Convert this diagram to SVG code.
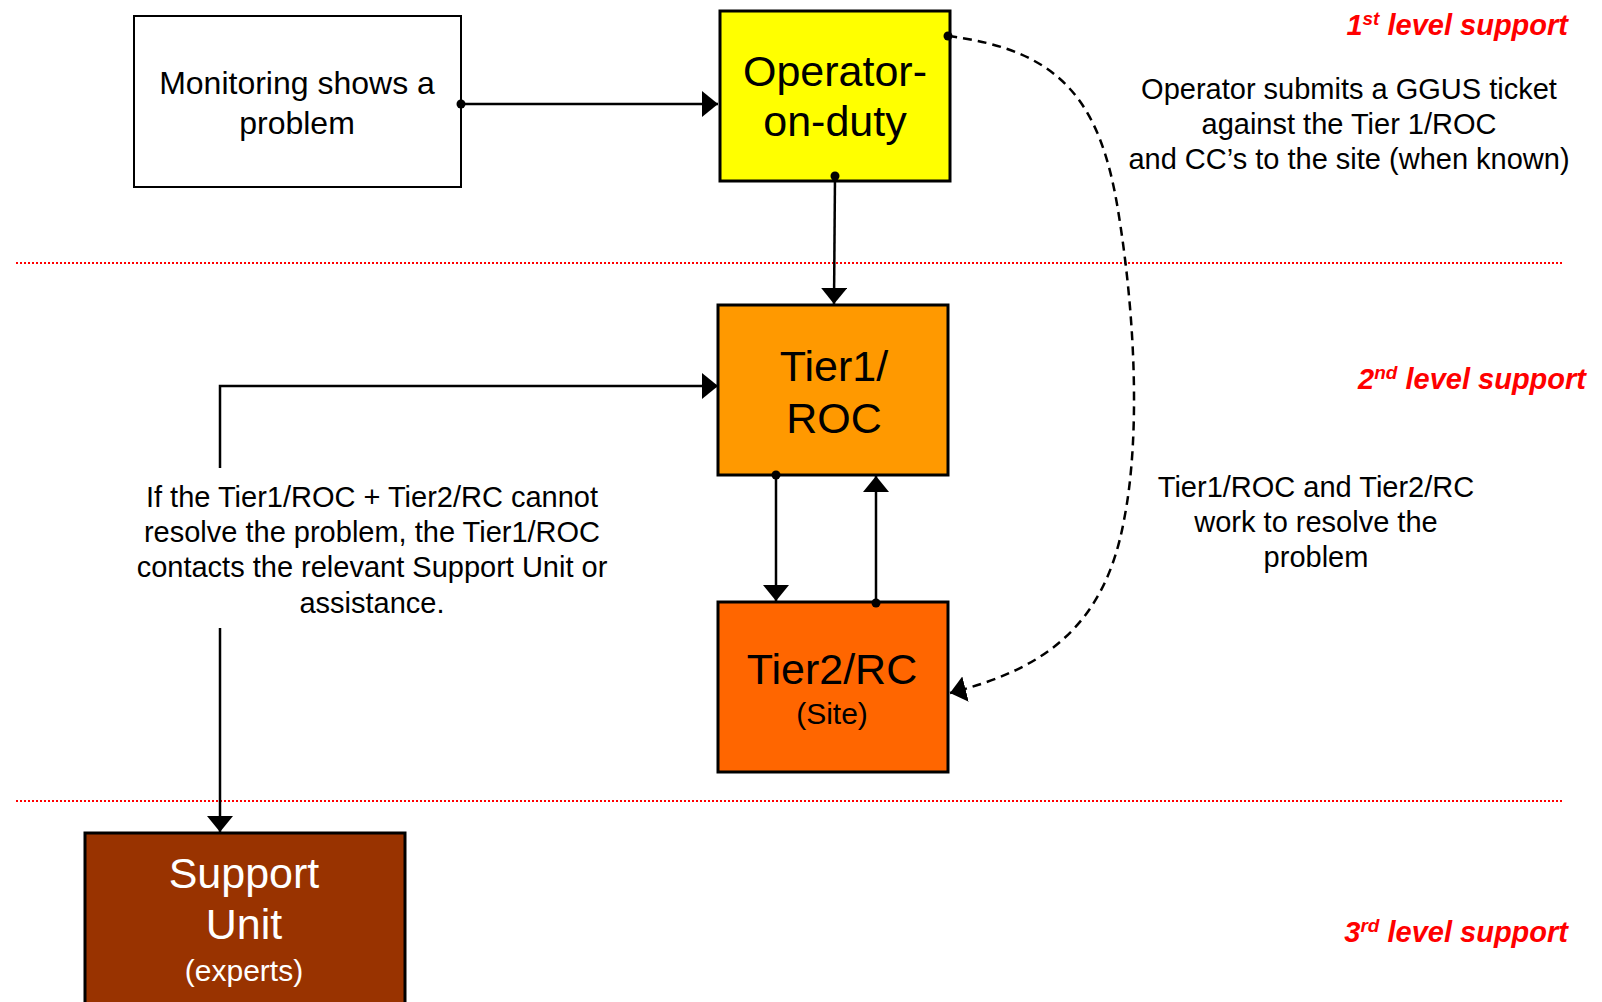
<svg xmlns="http://www.w3.org/2000/svg" width="1602" height="1002" viewBox="0 0 1602 1002">
<style>
text{font-family:"Liberation Sans",Arial,sans-serif;fill:#000}
.c{text-anchor:middle}
.body{font-size:29px}
.big{font-size:43px}
.mid{font-size:30px}
.lvl{font-size:29px;font-weight:bold;font-style:italic;fill:#ff0000;text-anchor:end}
.sup{font-size:19px}
.box{stroke:#000;stroke-width:3}
.wire{fill:none;stroke:#000;stroke-width:2.5}
.dash{fill:none;stroke:#000;stroke-width:2.5;stroke-dasharray:9 6}
.sep{stroke:#ff0000;stroke-width:2;stroke-dasharray:2 2}
.w{fill:#fff}
</style>
<defs>
<marker id="ah" viewBox="0 0 16 26" refX="16" refY="13" markerWidth="16" markerHeight="26" markerUnits="userSpaceOnUse" orient="auto">
<path d="M0,0 L16,13 L0,26 Z" fill="#000"/>
</marker>
<marker id="dot" viewBox="0 0 10 10" refX="5" refY="5" markerWidth="10" markerHeight="10" markerUnits="userSpaceOnUse">
<circle cx="5" cy="5" r="4.5" fill="#000"/>
</marker>
</defs>
<rect width="1602" height="1002" fill="#fff"/>
<g id="separators">
<line class="sep" x1="16" y1="263" x2="1563" y2="263"/>
<line class="sep" x1="16" y1="801" x2="1563" y2="801"/>
</g>
<g id="levels">
<text class="lvl" x="1568" y="35">1<tspan class="sup" dy="-10">st</tspan><tspan dy="10"> level support</tspan></text>
<text class="lvl" x="1586" y="389">2<tspan class="sup" dy="-10">nd</tspan><tspan dy="10"> level support</tspan></text>
<text class="lvl" x="1568" y="942">3<tspan class="sup" dy="-10">rd</tspan><tspan dy="10"> level support</tspan></text>
</g>
<g id="monitoring">
<rect x="134" y="16" width="327" height="171" fill="#fff" stroke="#000" stroke-width="2"/>
<text class="c" x="297" y="94" style="font-size:32px">Monitoring shows a</text>
<text class="c" x="297" y="134" style="font-size:32px">problem</text>
</g>
<g id="operator">
<rect class="box" x="720" y="11" width="230" height="170" fill="#ffff00"/>
<text class="c big" x="835" y="86">Operator-</text>
<text class="c big" x="835" y="136">on-duty</text>
</g>
<g id="tier1">
<rect class="box" x="718" y="305" width="230" height="170" fill="#ff9900"/>
<text class="c big" x="834" y="381">Tier1/</text>
<text class="c big" x="834" y="433">ROC</text>
</g>
<g id="tier2">
<rect class="box" x="718" y="602" width="230" height="170" fill="#ff6600"/>
<text class="c big" x="832" y="684">Tier2/RC</text>
<text class="c mid" x="832" y="724">(Site)</text>
</g>
<g id="support">
<rect class="box" x="85" y="833" width="320" height="180" fill="#993300"/>
<text class="c big w" x="244" y="888">Support</text>
<text class="c big w" x="244" y="939">Unit</text>
<text class="c mid w" x="244" y="981">(experts)</text>
</g>
<g id="notes">
<text class="c body" x="1349" y="99">Operator submits a GGUS ticket</text>
<text class="c body" x="1349" y="134">against the Tier 1/ROC</text>
<text class="c body" x="1349" y="169">and CC’s to the site (when known)</text>
<text class="c body" x="1316" y="497">Tier1/ROC and Tier2/RC</text>
<text class="c body" x="1316" y="532">work to resolve the</text>
<text class="c body" x="1316" y="567">problem</text>
<text class="c body" x="372" y="507">If the Tier1/ROC + Tier2/RC cannot</text>
<text class="c body" x="372" y="542">resolve the problem, the Tier1/ROC</text>
<text class="c body" x="372" y="577">contacts the relevant Support Unit or</text>
<text class="c body" x="372" y="613">assistance.</text>
</g>
<g id="connectors">
<path class="wire" d="M461,104 L718,104" marker-start="url(#dot)" marker-end="url(#ah)"/>
<path class="wire" d="M835,176 L834,304" marker-start="url(#dot)" marker-end="url(#ah)"/>
<path class="wire" d="M776,475 L776,601" marker-start="url(#dot)" marker-end="url(#ah)"/>
<path class="wire" d="M876,603 L876,476" marker-start="url(#dot)" marker-end="url(#ah)"/>
<path class="wire" d="M220,468 L220,386 L718,386" marker-end="url(#ah)"/>
<path class="wire" d="M220,628 L220,832" marker-end="url(#ah)"/>
<path class="dash" d="M948,36 C1060,50 1100,100 1118,210 C1136,320 1140,440 1124,520 C1104,630 1040,670 950,693" marker-start="url(#dot)" marker-end="url(#ah)"/>
</g>
</svg>
